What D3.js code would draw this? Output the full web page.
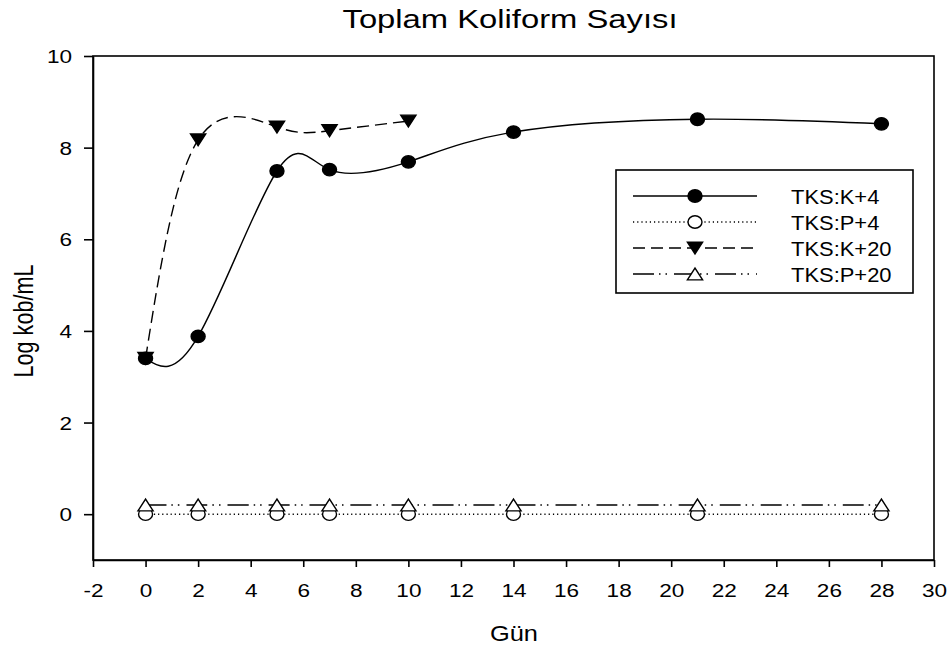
<!DOCTYPE html>
<html>
<head>
<meta charset="utf-8">
<script src="https://cdn.jsdelivr.net/npm/d3@7/dist/d3.min.js"></script>
<style>
  html, body { margin: 0; padding: 0; background: #fff; }
  svg { display: block; font-family: "Liberation Sans", Arial, sans-serif; }
</style>
</head>
<body>
<svg id="chart" width="951" height="648"></svg>
<script>
// Sampling days
const days = [0, 2, 5, 7, 10, 14, 21, 28];
const daysK20 = [0, 2, 5, 7, 10];

// Log kob/mL values per group
const valuesK4  = [3.40, 3.88, 7.49, 7.52, 7.69, 8.34, 8.62, 8.52];
const valuesP4  = [0, 0, 0, 0, 0, 0, 0, 0];
const valuesK20 = [3.40, 8.17, 8.45, 8.37, 8.58];
const valuesP20 = [0.2, 0.2, 0.2, 0.2, 0.2, 0.2, 0.2, 0.2];

const seriesNames = ["TKS:K+4", "TKS:P+4", "TKS:K+20", "TKS:P+20"];

const xTicks = d3.range(-2, 31, 2);
const yTicks = [0, 2, 4, 6, 8, 10];

const titleText = "Toplam Koliform Sayısı";
const xLabel = "Gün";
const yLabel = "Log kob/mL";

const svg = d3.select("#chart");

const x = d3.scaleLinear().domain([-2, 30]).range([93, 934]);
const y = d3.scaleLinear().domain([-1, 10]).range([560, 56]);

const line = d3.line().x(d => x(d[0])).y(d => y(d[1])).curve(d3.curveNatural);

const series = [
  { name: seriesNames[0], xs: days, ys: valuesK4, dash: null, sym: "circle", fill: "#000" },
  { name: seriesNames[1], xs: days, ys: valuesP4, dash: "1.2,3", sym: "circle", fill: "#fff" },
  { name: seriesNames[2], xs: daysK20, ys: valuesK20, dash: "12,6", sym: "down", fill: "#000" },
  { name: seriesNames[3], xs: days, ys: valuesP20, dash: "21,5,1.5,5,1.5,7", sym: "up", fill: "#fff" }
];

function drawSymbol(g, kind, fill, cx, cy) {
  if (kind === "circle") {
    g.append("ellipse").attr("cx", cx).attr("cy", cy).attr("rx", 7).attr("ry", 6.2)
      .attr("fill", fill).attr("stroke", "#000").attr("stroke-width", 1.4);
  } else {
    const w = 7.6, hh = 5.9;
    const pts = kind === "down"
      ? [[cx - w, cy - hh], [cx + w, cy - hh], [cx, cy + hh]]
      : [[cx - w, cy + hh], [cx + w, cy + hh], [cx, cy - hh]];
    g.append("polygon").attr("points", pts.map(p => p.join(",")).join(" "))
      .attr("fill", fill).attr("stroke", "#000").attr("stroke-width", 1.4)
      .attr("stroke-linejoin", "miter");
  }
}

// Frame
svg.append("rect").attr("x", 93).attr("y", 56).attr("width", 934 - 93).attr("height", 560 - 56)
  .attr("fill", "none").attr("stroke", "#000").attr("stroke-width", 1.6);

// Axes
const xAxis = svg.append("g").attr("transform", "translate(0,560)")
  .call(d3.axisBottom(x).tickValues(xTicks).tickSize(7).tickSizeOuter(0).tickFormat(d => String(d)));
const yAxis = svg.append("g").attr("transform", "translate(93,0)")
  .call(d3.axisLeft(y).tickValues(yTicks).tickSize(9).tickSizeOuter(0).tickFormat(d => String(d)));

[xAxis, yAxis].forEach(ax => {
  ax.select(".domain").attr("stroke", "#000").attr("stroke-width", 1.6);
  ax.selectAll(".tick line").attr("stroke", "#000").attr("stroke-width", 1.6);
  ax.selectAll(".tick text").attr("fill", "#000")
    .style("font-family", "'Liberation Sans', Arial, sans-serif").style("font-size", "18.5px");
});
xAxis.selectAll(".tick text").attr("y", 37).attr("dy", 0).attr("transform", "scale(1.22,1)");
yAxis.selectAll(".tick text").attr("x", -21 / 1.22).attr("dy", "0.35em").attr("transform", "scale(1.22,1)");

// Curves and symbols
const plot = svg.append("g");
series.forEach(s => {
  plot.append("path").datum(s.xs.map((d, i) => [d, s.ys[i]])).attr("d", line)
    .attr("fill", "none").attr("stroke", "#000").attr("stroke-width", 1.4)
    .attr("stroke-dasharray", s.dash);
});
series.forEach(s => {
  const g = plot.append("g");
  s.xs.forEach((d, i) => drawSymbol(g, s.sym, s.fill, x(d), y(s.ys[i])));
});

// Legend
const legend = svg.append("g");
legend.append("rect").attr("x", 616).attr("y", 170).attr("width", 913 - 616).attr("height", 293 - 170)
  .attr("fill", "#fff").attr("stroke", "#000").attr("stroke-width", 1.6);
series.forEach((s, i) => {
  const ry = 196 + i * 26;
  legend.append("line").attr("x1", 633).attr("x2", 757).attr("y1", ry).attr("y2", ry)
    .attr("stroke", "#000").attr("stroke-width", 1.4).attr("stroke-dasharray", s.dash);
  drawSymbol(legend, s.sym, s.fill, 695, ry);
  legend.append("text").attr("transform", `translate(791,${ry + 7.5}) scale(1.07,1)`)
    .style("font-size", "20.5px").attr("fill", "#000").text(s.name);
});

// Titles
svg.append("text").attr("x", 510).attr("y", 28).attr("text-anchor", "middle")
  .attr("textLength", 335).attr("lengthAdjust", "spacingAndGlyphs")
  .style("font-size", "25.6px").attr("fill", "#000").text(titleText);
svg.append("text").attr("x", 514).attr("y", 641).attr("text-anchor", "middle")
  .attr("textLength", 48).attr("lengthAdjust", "spacingAndGlyphs")
  .style("font-size", "21.5px").attr("fill", "#000").text(xLabel);
svg.append("text").attr("transform", "translate(33,321) scale(1.3,1) rotate(-90)")
  .attr("text-anchor", "middle").style("font-size", "21.6px").attr("fill", "#000").text(yLabel);
</script>
</body>
</html>
